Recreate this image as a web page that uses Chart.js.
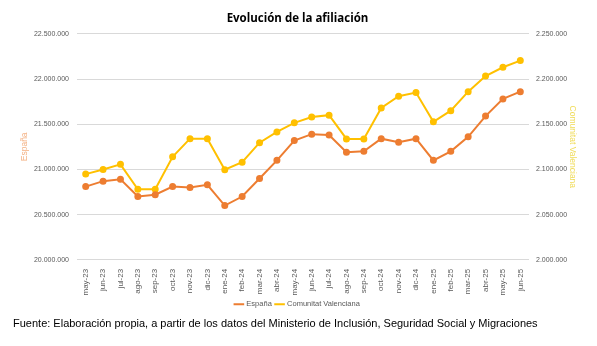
<!DOCTYPE html>
<html>
<head>
<meta charset="utf-8">
<script src="https://cdn.jsdelivr.net/npm/chart.js@4"></script>
<style>
  html, body { margin: 0; padding: 0; background: #fff; }
  #wrap { position: relative; width: 597px; height: 318px; }
  #fuente { position: absolute; left: 13px; top: 317px; font-family: "Liberation Sans", Arial, sans-serif; font-size: 11px; color: #000; white-space: nowrap; }
</style>
</head>
<body>
<div id="wrap"><canvas id="grafico"></canvas></div>
<div id="fuente">Fuente: Elaboración propia, a partir de los datos del Ministerio de Inclusión, Seguridad Social y Migraciones</div>
<script>
// meses
const meses = ['may-23', 'jun-23', 'jul-23', 'ago-23', 'sep-23', 'oct-23', 'nov-23', 'dic-23',
  'ene-24', 'feb-24', 'mar-24', 'abr-24', 'may-24', 'jun-24', 'jul-24', 'ago-24', 'sep-24',
  'oct-24', 'nov-24', 'dic-24', 'ene-25', 'feb-25', 'mar-25', 'abr-25', 'may-25', 'jun-25'];

// afiliados España (eje izquierdo)
const espana = [20810000, 20870000, 20890000, 20700000, 20720000, 20810000, 20800000, 20830000,
  20600000, 20700000, 20900000, 21100000, 21320000, 21390000, 21380000, 21190000, 21200000,
  21340000, 21300000, 21340000, 21100000, 21200000, 21360000, 21590000, 21780000, 21860000];

// afiliados Comunitat Valenciana (eje derecho)
const valenciana = [2094800, 2100000, 2105600, 2078000, 2078000, 2114000, 2134000, 2134000,
  2099600, 2108000, 2129600, 2141500, 2151500, 2158000, 2160000, 2133700, 2133700,
  2168000, 2181000, 2185000, 2152600, 2165000, 2186000, 2203300, 2213000, 2220400];

const ticksEspana = [20000000, 22500000, 500000];
const ticksValenciana = [2000000, 2250000, 50000];

function formatoMiles(v) {
  return String(v).replace(/\B(?=(\d{3})+(?!\d))/g, '.');
}

const familia = '"Liberation Sans", Arial, sans-serif';
const fuenteEje = { family: familia, size: 7 };
const fuenteMes = { family: familia, size: 8 };
const fuenteTituloEje = { family: familia, size: 8.5 };

new Chart(document.getElementById('grafico'), {
  type: 'line',
  data: {
    labels: meses,
    datasets: [
      {
        label: 'España', data: espana, yAxisID: 'y',
        borderColor: '#ED7D31', backgroundColor: '#ED7D31',
        borderWidth: 2, pointRadius: 2.5, pointHoverRadius: 3
      },
      {
        label: 'Comunitat Valenciana', data: valenciana, yAxisID: 'y1',
        borderColor: '#FFC000', backgroundColor: '#FFC000',
        borderWidth: 2, pointRadius: 2.5, pointHoverRadius: 3
      }
    ]
  },
  options: {
    responsive: true,
    maintainAspectRatio: false,
    animation: false,
    layout: { padding: { left: 18, right: 20, top: 4, bottom: 0 } },
    plugins: {
      title: {
        display: true,
        text: 'Evolución de la afiliación',
        color: '#000',
        font: { family: '"Open Sans", "Liberation Sans", sans-serif', size: 11.5, weight: 'bold' },
        padding: { top: 8, bottom: 8 }
      },
      legend: {
        position: 'bottom',
        labels: {
          usePointStyle: true, pointStyle: 'line',
          color: '#595959', boxWidth: 20, padding: 4,
          font: { family: familia, size: 7.5 }
        }
      },
      tooltip: { enabled: false }
    },
    scales: {
      x: {
        offset: true,
        grid: { display: false },
        border: { display: false },
        ticks: {
          color: '#595959', font: fuenteMes, padding: 1,
          minRotation: 90, maxRotation: 90, autoSkip: false
        }
      },
      y: {
        position: 'left',
        min: ticksEspana[0], max: ticksEspana[1],
        grid: { color: '#D9D9D9', drawTicks: false },
        border: { display: false },
        ticks: { stepSize: ticksEspana[2], color: '#595959', font: fuenteEje, padding: 8,
          callback: v => formatoMiles(v) },
        title: { display: true, text: 'España', color: '#F4B183', font: fuenteTituloEje, padding: { top: 2, bottom: 4 } },
        afterFit: eje => { eje.width = 59; }
      },
      y1: {
        position: 'right',
        min: ticksValenciana[0], max: ticksValenciana[1],
        grid: { drawOnChartArea: false, drawTicks: false },
        border: { display: false },
        ticks: { stepSize: ticksValenciana[2], color: '#595959', font: fuenteEje, padding: 7,
          callback: v => formatoMiles(v) },
        title: { display: true, text: 'Comunitat Valenciana', color: '#F0DC5A', font: fuenteTituloEje, padding: { top: 0, bottom: 2 } },
        afterFit: eje => { eje.width = 48; }
      }
    }
  }
});
</script>
</body>
</html>
